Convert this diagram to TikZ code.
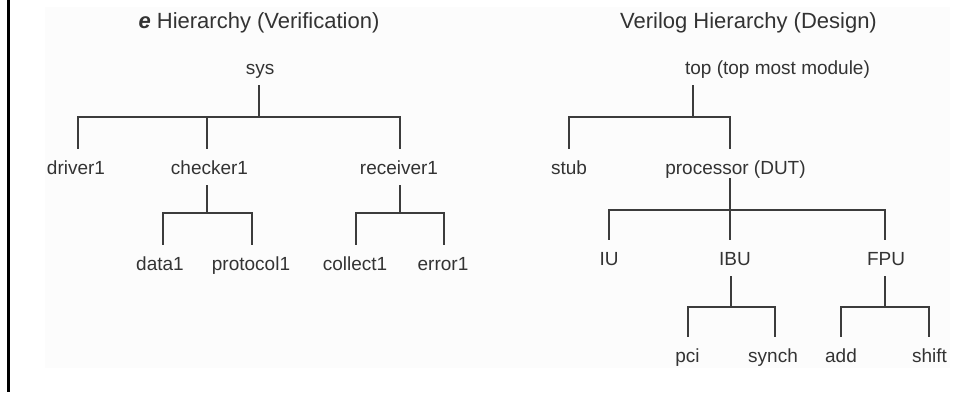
\documentclass[tikz,border=0pt]{standalone}
\usepackage{fontspec}
\setmainfont{Liberation Sans}
\definecolor{ink}{HTML}{333333}
\definecolor{wire}{HTML}{3C3C3C}
\definecolor{panel}{HTML}{FCFCFC}
\begin{document}
\begin{tikzpicture}[x=1pt,y=-1pt,
  title/.style={anchor=base,inner sep=0pt,text=ink,font=\fontsize{22}{26}\selectfont},
  item/.style={anchor=base,inner xsep=0pt,inner ysep=11pt,text height=14pt,text depth=0pt,
               text=ink,font=\fontsize{19}{22}\selectfont},
  link/.style={draw=wire,line width=2pt}]
\useasboundingbox (0,0) rectangle (959,392);
\fill[panel] (45,7) rectangle (950,368);
\draw[line width=3pt,black] (8.5,0) -- (8.5,392);

% ---- e hierarchy (verification) ----
\node[title] (etitle) at (259,28) {\textbf{\textit{e}} Hierarchy (Verification)};
\node[item] (sys)       at (260,74)    {sys};
\node[item] (driver)    at (76,174)    {driver1};
\node[item] (checker)   at (209.5,174) {checker1};
\node[item] (receiver)  at (399,174)   {receiver1};
\node[item] (data)      at (160,270)   {data1};
\node[item] (protocol)  at (251,270)   {protocol1};
\node[item] (collect)   at (355,270)   {collect1};
\node[item] (error)     at (443,270)   {error1};

\coordinate (barA) at (0,117);
\coordinate (barB) at (0,213);

\draw[link] ([xshift=-1pt]sys.south) -- ([xshift=-1pt]sys.south |- barA) -| ([xshift=2pt]driver.north);
\draw[link] ([xshift=-1pt]sys.south) -- ([xshift=-1pt]sys.south |- barA) -| ([xshift=-3pt]checker.north);
\draw[link] ([xshift=-1pt]sys.south) -- ([xshift=-1pt]sys.south |- barA) -| ([xshift=1pt]receiver.north);

\draw[link] ([xshift=-3pt]checker.south) -- ([xshift=-3pt]checker.south |- barB) -| ([xshift=3pt]data.north);
\draw[link] ([xshift=-3pt]checker.south) -- ([xshift=-3pt]checker.south |- barB) -| ([xshift=1pt]protocol.north);
\draw[link] ([xshift=1pt]receiver.south) -- ([xshift=1pt]receiver.south |- barB) -| ([xshift=1pt]collect.north);
\draw[link] ([xshift=1pt]receiver.south) -- ([xshift=1pt]receiver.south |- barB) -| ([xshift=1pt]error.north);

% ---- Verilog hierarchy (design) ----
\node[title] (vtitle) at (748.5,28) {Verilog Hierarchy (Design)};
\node[item] (top)   at (777.5,74)  {top (top most module)};
\node[item] (stub)  at (569,174)   {stub};
\node[item] (proc)  at (735.5,174) {processor (DUT)};
\node[item] (iu)    at (609,265)   {IU};
\node[item] (ibu)   at (735,265)   {IBU};
\node[item] (fpu)   at (886,265)   {FPU};
\node[item] (pci)   at (687.5,362) {pci};
\node[item] (synch) at (773,362)   {synch};
\node[item] (add)   at (841,362)   {add};
\node[item] (shift) at (929.5,362) {shift};

\coordinate (barC) at (0,210);
\coordinate (barD) at (0,307);

\draw[link] ([xshift=-84.5pt]top.south) -- ([xshift=-84.5pt]top.south |- barA) -| (stub.north);
\draw[link] ([xshift=-84.5pt]top.south) -- ([xshift=-84.5pt]top.south |- barA) -| ([xshift=-5.5pt]proc.north);

\draw[link,shorten <=-7pt] ([xshift=-5.5pt]proc.south) -- ([xshift=-5.5pt]proc.south |- barC) -| (iu.north);
\draw[link,shorten <=-7pt] ([xshift=-5.5pt]proc.south) -- ([xshift=-5.5pt]proc.south |- barC) -| ([xshift=-5pt]ibu.north);
\draw[link,shorten <=-7pt] ([xshift=-5.5pt]proc.south) -- ([xshift=-5.5pt]proc.south |- barC) -| ([xshift=-1pt]fpu.north);

\draw[link] ([xshift=-4pt]ibu.south) -- ([xshift=-4pt]ibu.south |- barD) -| (pci.north);
\draw[link] ([xshift=-4pt]ibu.south) -- ([xshift=-4pt]ibu.south |- barD) -| ([xshift=2pt]synch.north);
\draw[link] ([xshift=-1pt]fpu.south) -- ([xshift=-1pt]fpu.south |- barD) -| (add.north);
\draw[link] ([xshift=-1pt]fpu.south) -- ([xshift=-1pt]fpu.south |- barD) -| ([xshift=-0.5pt]shift.north);
\end{tikzpicture}
\end{document}
